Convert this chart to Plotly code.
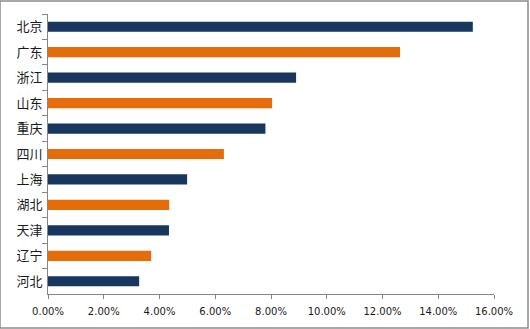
import plotly.graph_objects as go

provinces = ["北京", "广东", "浙江", "山东", "重庆", "四川", "上海", "湖北", "天津", "辽宁", "河北"]
shares = [15.24, 12.63, 8.90, 8.04, 7.80, 6.31, 4.99, 4.35, 4.34, 3.70, 3.27]
navy = "#17375E"
orange = "#E46C0A"
bar_colors = [navy if i % 2 == 0 else orange for i in range(len(provinces))]
x_ticks = [0, 2, 4, 6, 8, 10, 12, 14, 16]
x_tick_text = ["%.2f%%" % v for v in x_ticks]

fig = go.Figure(go.Bar(
    x=shares, y=provinces, orientation="h",
    marker=dict(color=bar_colors, line=dict(width=0)),
    width=0.4,
))

fig.update_layout(
    width=530, height=329,
    margin=dict(l=48, r=36, t=14, b=35),
    paper_bgcolor="white", plot_bgcolor="white",
    showlegend=False,
    xaxis=dict(
        range=[0, 16], tickvals=x_ticks, ticktext=x_tick_text,
        showgrid=False, zeroline=False,
        showline=True, linecolor="#868686", linewidth=1,
        ticks="outside", ticklen=4, tickcolor="#868686",
        tickfont=dict(family="DejaVu Sans", size=10, color="#1a1a1a"),
        ticklabelstandoff=4,
        fixedrange=True,
    ),
    yaxis=dict(
        type="category", categoryorder="array", categoryarray=provinces,
        autorange="reversed",
        showgrid=False, zeroline=False,
        showline=True, linecolor="#868686", linewidth=1,
        ticks="outside", ticklen=5, tickcolor="#868686", tickson="boundaries",
        tickfont=dict(family="Noto Sans CJK SC", size=13, color="#1a1a1a"),
        ticklabelstandoff=2,
        fixedrange=True,
    ),
    shapes=[dict(type="rect", xref="paper", yref="paper",
                 x0=-48/446, x1=1 + 34/446, y0=-34/280.5, y1=1 + 13/280.5,
                 line=dict(color="#8c8c8c", width=1.5), layer="below")],
)

fig.write_html("out.html")
